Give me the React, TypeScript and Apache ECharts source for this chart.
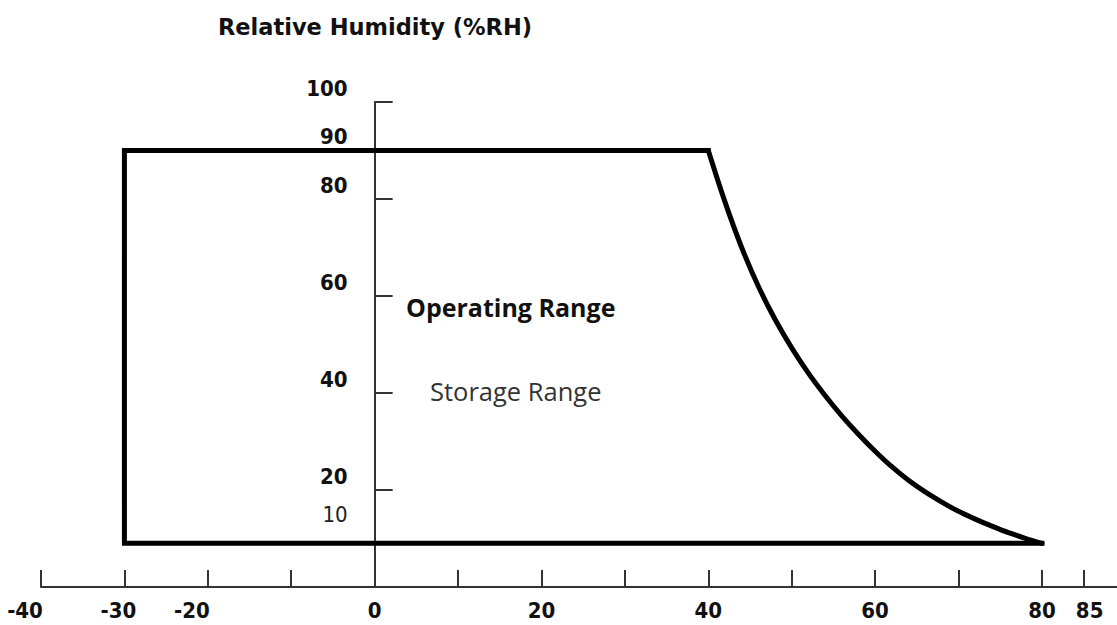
import React, { useEffect, useRef } from "react";
import * as echarts from "echarts";

// Temperature axis (°C)
const xTickValues = [-40, -30, -20, -10, 0, 10, 20, 30, 40, 50, 60, 70, 80, 85];
const xLabelValues = [-40, -30, -20, 0, 20, 40, 60, 80, 85];
// Relative humidity axis (%RH)
const yTickValues = [20, 40, 60, 80, 100];
const yLabelValues = [10, 20, 40, 60, 80, 90, 100];

// Straight part of the envelope (temperature, %RH): top edge, left edge, bottom edge
const edgeTemp = [40, -30, -30, 80];
const edgeRH = [90, 90, 9, 9];
// Curved high-temperature limit (temperature, %RH)
const curveTemp = [40, 42, 44, 46, 48, 50, 52, 54, 56, 58, 60, 62, 64, 66, 68, 70, 72, 74, 76, 78, 80];
const curveRH = [90, 79.4, 70.0, 62.0, 55.2, 49.3, 44.1, 39.5, 35.3, 31.5, 28.0, 24.8, 22.0, 19.6, 17.5, 15.6, 14.0, 12.55, 11.2, 10.05, 9];

const titleText = "Relative Humidity (%RH)";
const operatingLabel = "Operating Range";
const storageLabel = "Storage Range";

const numFont = "'Liberation Sans Narrow', 'Arial Narrow', 'DejaVu Sans Condensed', sans-serif";

export default function App() {
  const ref = useRef<HTMLDivElement>(null);
  useEffect(() => {
    if (!ref.current) return;
    const chart = echarts.init(ref.current, null, { renderer: "svg" });
    const edgeData = edgeTemp.map((t, i) => [t, edgeRH[i]]);
    const curveData = curveTemp.map((t, i) => [t, curveRH[i]]);
    const numStyle = { fontFamily: numFont, fontWeight: "bold", fontSize: 22, color: "#111" };
    const gridLeft = 41;
    chart.setOption({
      animation: false,
      backgroundColor: "#ffffff",
      grid: { left: gridLeft, right: 0, top: 102, bottom: 38, containLabel: false, outerBoundsMode: "none" },
      xAxis: {
        type: "value",
        min: -40,
        max: 89,
        splitLine: { show: false },
        axisLine: { show: true, onZero: false, lineStyle: { color: "#333", width: 2 } },
        axisTick: { show: true, inside: true, length: 17, customValues: xTickValues, lineStyle: { color: "#333", width: 2 } },
        axisLabel: {
          customValues: xLabelValues,
          margin: 12,
          color: "#111",
          fontFamily: numFont,
          fontWeight: "bold",
          fontSize: 22,
          formatter: (v: number) => {
            if (v === -40 || v === -20) return "{a|" + v + "}";
            if (v === -30) return "{b|" + v + "}";
            if (v === 85) return "{c|" + v + "}";
            return "{n|" + v + "}";
          },
          rich: {
            a: { ...numStyle, padding: [0, 32, 0, 0] },
            b: { ...numStyle, padding: [0, 12, 0, 0] },
            c: { ...numStyle, padding: [0, 0, 0, 12] },
            n: { ...numStyle },
          },
        },
      },
      yAxis: {
        type: "value",
        min: 0,
        max: 100,
        offset: 0,
        splitLine: { show: false },
        axisLine: { show: true, onZero: false, lineStyle: { color: "#333", width: 2 } },
        axisTick: { show: true, inside: true, length: 18, customValues: yTickValues, lineStyle: { color: "#333", width: 2 } },
        axisLabel: {
          customValues: yLabelValues,
          margin: 27,
          color: "#111",
          fontFamily: numFont,
          fontWeight: "bold",
          fontSize: 22,
          verticalAlign: "bottom",
          formatter: (v: number) => (v === 10 ? "{lo|" + v + "}" : "{n|" + v + "}"),
          rich: {
            lo: { ...numStyle, fontWeight: "normal", color: "#222", verticalAlign: "bottom", padding: [0, 0, 13, 0] },
            n: { ...numStyle, verticalAlign: "bottom", padding: [0, 0, 3, 0] },
          },
        },
      },
      graphic: [
        {
          type: "text",
          x: 375,
          y: 27,
          style: {
            text: titleText,
            fill: "#111",
            font: "bold 22.5px 'DejaVu Sans', sans-serif",
            align: "center",
            verticalAlign: "middle",
          },
        },
        {
          type: "text",
          x: 406,
          y: 307,
          style: {
            text: operatingLabel,
            fill: "#111",
            font: "bold 25px 'Open Sans', sans-serif",
            align: "left",
            verticalAlign: "middle",
          },
        },
        {
          type: "text",
          x: 430,
          y: 391,
          style: {
            text: storageLabel,
            fill: "#333",
            font: "25.5px 'Open Sans', sans-serif",
            align: "left",
            verticalAlign: "middle",
          },
        },
      ],
      series: [
        {
          type: "line",
          data: edgeData,
          showSymbol: false,
          symbol: "none",
          silent: true,
          lineStyle: { color: "#000", width: 5, join: "miter", cap: "square" },
          z: 5,
        },
        {
          type: "line",
          data: curveData,
          showSymbol: false,
          symbol: "none",
          silent: true,
          smooth: 0.3,
          lineStyle: { color: "#000", width: 5, join: "round", cap: "round" },
          z: 5,
        },
      ],
    });
    // Place the humidity axis at 0 °C on the temperature axis
    const zeroX = chart.convertToPixel({ xAxisIndex: 0 }, 0) as number;
    chart.setOption({ yAxis: { offset: -(zeroX - gridLeft) } });
    return () => chart.dispose();
  }, []);
  return <div ref={ref} style={{ position: "fixed", left: 0, top: 0, width: 1117, height: 625, background: "#fff" }} />;
}
